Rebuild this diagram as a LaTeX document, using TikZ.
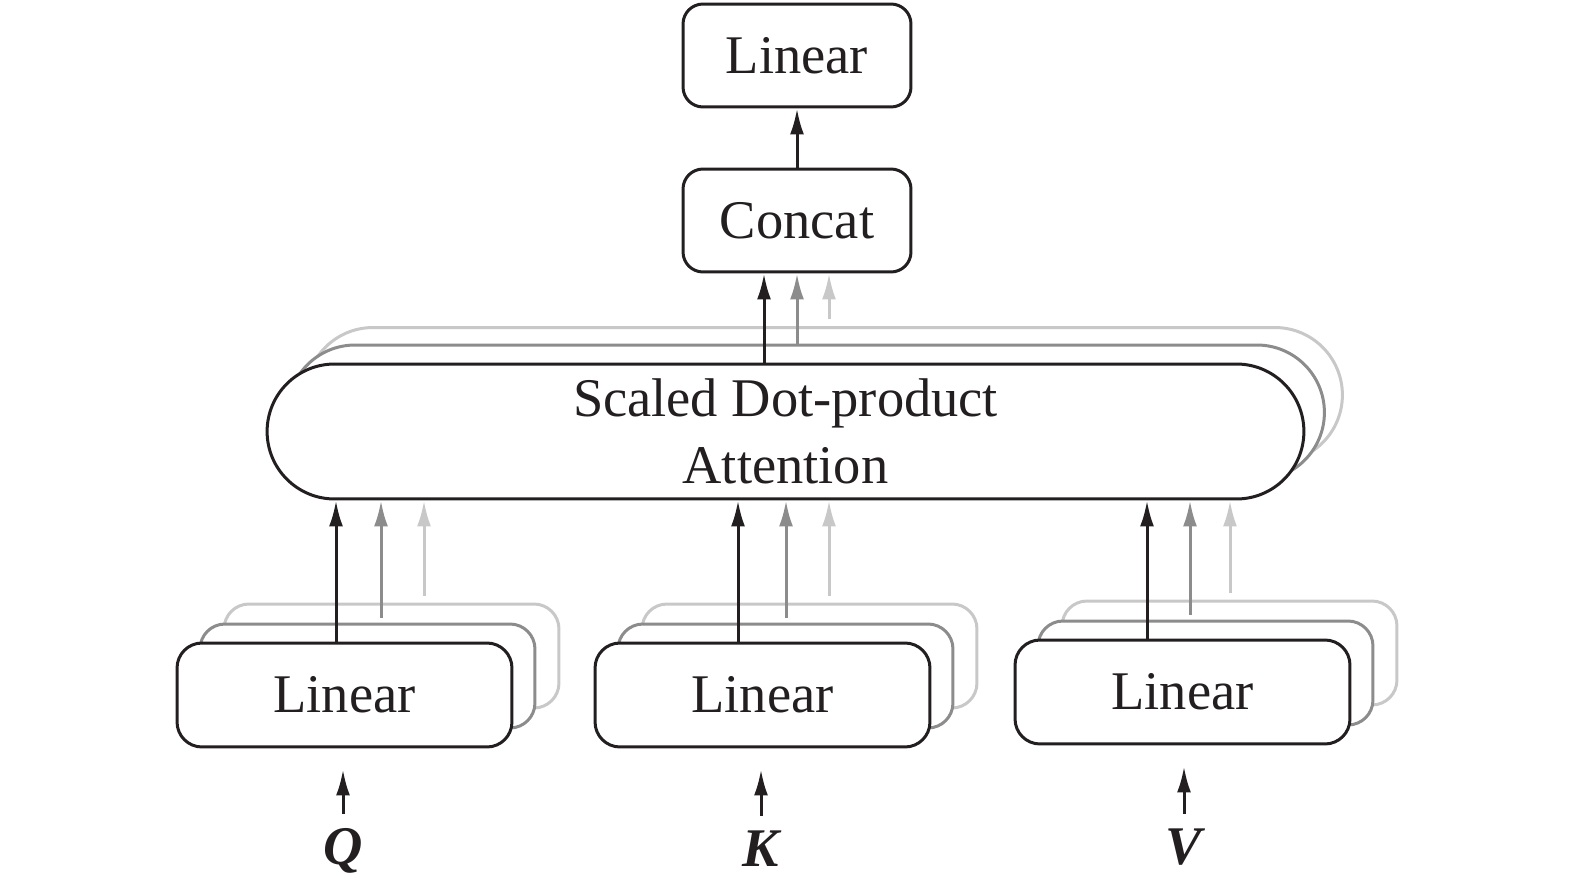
\documentclass[tikz,border=0pt]{standalone}
\usepackage{fontspec}
\setmainfont{Liberation Serif}
\usepackage{tikz}
\definecolor{inkblack}{HTML}{231F20}
\definecolor{stackgray}{HTML}{8C8C8C}
\definecolor{stacklight}{HTML}{C8C8C8}
\usetikzlibrary{positioning, arrows.meta}
\tikzstyle{arrow} = [line width=0.06cm,-{Latex[length=0.52cm,width=0.28cm]}]

\begin{document}
\begin{tikzpicture}[x=0.02cm, y=-0.02cm]
                    \tikzstyle{every node}=[font=\fontsize{31}{38}\selectfont, text=inkblack]
                    \tikzstyle{topbox} = [rectangle, rounded corners=0.4cm, draw=inkblack, line width=0.06cm, fill=white, minimum width=4.56cm, minimum height=2.06cm]
                    \tikzstyle{linbox} = [rectangle, rounded corners=0.5cm, draw=inkblack, line width=0.06cm, fill=white, minimum width=6.7cm, minimum height=2.08cm]
                    \tikzstyle{attbox} = [rectangle, rounded corners=1.35cm, draw=inkblack, line width=0.06cm, fill=white, minimum width=20.74cm, minimum height=2.7cm, align=center]
                    \tikzstyle{inlabel} = [anchor=base, inner sep=0pt, font=\fontsize{31}{38}\selectfont\bfseries\itshape]

                    \useasboundingbox (0,0) rectangle (1575,888);

                    % output side
                    \node[topbox](out) at (797,55.5) {Linear};
                    \node[topbox](concat) at (797,220.5) {Concat};

                    % attention heads
                    \node[attbox, draw=stacklight](att3) at (824,395) {};
                    \node[attbox, draw=stackgray](att2) at (806,412.5) {};
                    \node[attbox](att) at (785.5,431.5) {Scaled Dot-product\\Attention};

                    % linear projections
                    \foreach \n/\x/\y in {q/344.5/695, k/762.5/695, v/1182.5/692} {
                        \node[linbox, draw=stacklight](\n3) at (\x+47,\y-39) {};
                        \node[linbox, draw=stackgray](\n2) at (\x+23,\y-19) {};
                        \node[linbox](\n1) at (\x,\y) {Linear};
                    }

                    % inputs
                    \node[inlabel](qin) at (343,864) {Q};
                    \node[inlabel](kin) at (761,866) {K};
                    \node[inlabel](vin) at (1184,864) {V};

                    \foreach \n in {q, k, v} {
                        \draw[arrow, inkblack, shorten <=0.28cm, shorten >=0.42cm] (\n in.north) -- (\n in.north |- \n1.south);
                    }

                    \foreach \n/\a/\b/\c in {q/336/381/424, k/738/786/829, v/1147/1190/1230} {
                        \draw[arrow, stacklight, shorten <=0.14cm] (\n3.north -| \c,0) -- (att.south -| \c,0);
                        \draw[arrow, stackgray, shorten <=0.1cm] (\n2.north -| \b,0) -- (att.south -| \b,0);
                        \draw[arrow, inkblack] (\n1.north -| \a,0) -- (att.south -| \a,0);
                    }

                    \draw[arrow, stacklight, shorten <=0.14cm] (att3.north -| 829,0) -- (concat.south -| 829,0);
                    \draw[arrow, stackgray] (att2.north -| 797,0) -- (concat.south -| 797,0);
                    \draw[arrow, inkblack] (att.north -| 764,0) -- (concat.south -| 764,0);
                    \draw[arrow, inkblack] (concat) -- (out);

            \end{tikzpicture}
\end{document}
